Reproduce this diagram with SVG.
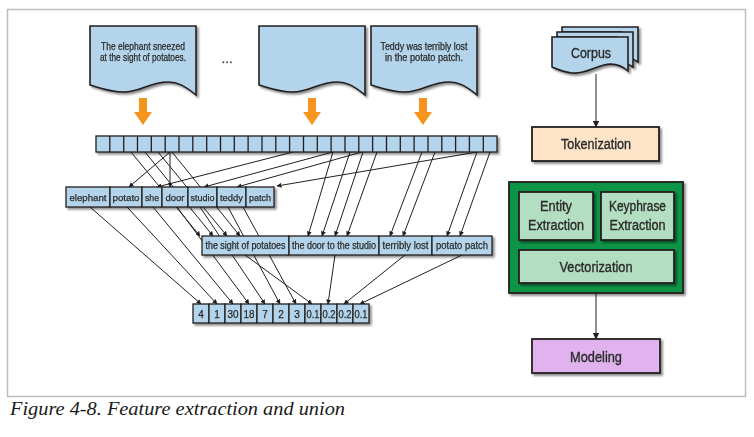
<svg xmlns="http://www.w3.org/2000/svg" width="754" height="437" viewBox="0 0 754 437">
<defs>
<filter id="sh" x="-10%" y="-10%" width="130%" height="140%"><feDropShadow dx="2" dy="2" stdDeviation="1.2" flood-color="#000" flood-opacity="0.45"/></filter>
<marker id="ah" markerWidth="5" markerHeight="5" refX="4.5" refY="2.5" orient="auto" markerUnits="userSpaceOnUse"><path d="M0,0 L5,2.5 L0,5 Z" fill="#231f20"/></marker>
<marker id="ah2" markerWidth="7" markerHeight="7" refX="6.5" refY="3.5" orient="auto" markerUnits="userSpaceOnUse"><path d="M0,0 L7,3.5 L0,7 Z" fill="#231f20"/></marker>
</defs>
<style>
.doc{fill:#b3d4ea;stroke:#231f20;stroke-width:1.6}
.cell{fill:#b3d4ea;stroke:#231f20;stroke-width:1.3}
.t{font-family:"Liberation Sans",Arial,sans-serif;fill:#2b2b2b;text-anchor:middle;stroke:#2b2b2b;stroke-width:0.25}
.s9{font-size:9.5px}
.s10{font-size:10px}
.s13{font-size:14px;stroke-width:0.35}
.ln{stroke:#231f20;stroke-width:1;fill:none;marker-end:url(#ah)}
.or{fill:#f7941d}
.box{stroke:#231f20;stroke-width:1.8}
</style>
<rect x="7.5" y="9.5" width="738" height="387" fill="#fff" stroke="#bdbdbd" stroke-width="1.5"/>

<g id="connectors">
<!-- bar to words -->
<line class="ln" x1="170" y1="152" x2="129" y2="187"/>
<line class="ln" x1="170" y1="152" x2="170" y2="187"/>
<line class="ln" x1="293" y1="152" x2="157" y2="187"/>
<line class="ln" x1="333" y1="152" x2="204" y2="187"/>
<line class="ln" x1="362" y1="152" x2="237" y2="187"/>
<line class="ln" x1="477" y1="152" x2="277" y2="186"/>
<!-- bar to phrases (behind words) -->
<line class="ln" x1="131" y1="152" x2="200" y2="236"/>
<line class="ln" x1="145" y1="152" x2="213" y2="236"/>
<line class="ln" x1="158" y1="152" x2="227" y2="236"/>
<line class="ln" x1="172" y1="152" x2="240" y2="236"/>
<line class="ln" x1="333" y1="152" x2="308" y2="236"/>
<line class="ln" x1="350" y1="152" x2="322" y2="236"/>
<line class="ln" x1="363" y1="152" x2="335" y2="236"/>
<line class="ln" x1="377" y1="152" x2="347" y2="236"/>
<line class="ln" x1="422" y1="152" x2="390" y2="236"/>
<line class="ln" x1="435" y1="152" x2="403" y2="236"/>
<line class="ln" x1="477" y1="152" x2="447" y2="236"/>
<line class="ln" x1="490" y1="152" x2="460" y2="236"/>
<!-- words to numbers -->
<line class="ln" x1="90" y1="207" x2="201" y2="304"/>
<line class="ln" x1="127" y1="207" x2="217" y2="304"/>
<line class="ln" x1="153" y1="207" x2="233" y2="304"/>
<line class="ln" x1="177" y1="207" x2="249" y2="304"/>
<line class="ln" x1="200" y1="207" x2="265" y2="304"/>
<line class="ln" x1="228" y1="207" x2="280" y2="304"/>
<line class="ln" x1="243" y1="207" x2="296" y2="304"/>
<!-- phrases to numbers -->
<line class="ln" x1="245" y1="255" x2="312" y2="304"/>
<line class="ln" x1="335" y1="255" x2="328" y2="304"/>
<line class="ln" x1="405" y1="255" x2="344" y2="304"/>
<line class="ln" x1="462" y1="255" x2="360" y2="304"/>
<!-- pipeline -->
<line x1="596" y1="74" x2="596" y2="127" stroke="#231f20" stroke-width="1" marker-end="url(#ah2)"/>
<line x1="596" y1="283" x2="596" y2="339" stroke="#231f20" stroke-width="1" marker-end="url(#ah2)"/>
</g>

<g id="doc1" filter="url(#sh)">
<path class="doc" d="M90,26 H196 V95 C185,86 178,82 168,82 C150,82 140,92 124,92 C110,92 100,88 90,85 Z"/>
<text class="t s10" x="143" y="50" textLength="84" lengthAdjust="spacingAndGlyphs">The elephant sneezed</text>
<text class="t s10" x="143" y="61" textLength="86" lengthAdjust="spacingAndGlyphs">at the sight of potatoes.</text>
</g>
<g id="dots"><text class="t" x="227" y="63" style="font-size:12px">…</text></g>
<g id="doc2" filter="url(#sh)">
<path class="doc" d="M259,26 H365 V95 C354,86 347,82 337,82 C319,82 309,92 293,92 C279,92 269,88 259,85 Z"/>
</g>
<g id="doc3" filter="url(#sh)">
<path class="doc" d="M371,26 H477 V95 C466,86 459,82 449,82 C431,82 421,92 405,92 C391,92 381,88 371,85 Z"/>
<text class="t s10" x="424" y="50" textLength="87" lengthAdjust="spacingAndGlyphs">Teddy was terribly lost</text>
<text class="t s10" x="424" y="61" textLength="78" lengthAdjust="spacingAndGlyphs">in the potato patch.</text>
</g>

<g id="arrows">
<path class="or" d="M139,98 H147 V112 H152 L143,125 L134,112 H139 Z"/>
<path class="or" d="M308,98 H316 V112 H321 L312,125 L303,112 H308 Z"/>
<path class="or" d="M419,98 H427 V112 H432 L423,125 L414,112 H419 Z"/>
</g>

<g id="tokens" filter="url(#sh)">
<rect class="cell" x="96" y="136" width="401" height="16"/>
<path stroke="#231f20" stroke-width="1.3" d="M109.8,136V152M123.7,136V152M137.5,136V152M151.3,136V152M165.2,136V152M179,136V152M192.8,136V152M206.7,136V152M220.5,136V152M234.3,136V152M248.1,136V152M262,136V152M275.8,136V152M289.6,136V152M303.5,136V152M317.3,136V152M331.1,136V152M345,136V152M358.8,136V152M372.6,136V152M386.5,136V152M400.3,136V152M414.1,136V152M428,136V152M441.8,136V152M455.6,136V152M469.4,136V152M483.3,136V152"/>
</g>

<g id="words" filter="url(#sh)">
<rect class="cell" x="66" y="187" width="44" height="20"/>
<rect class="cell" x="110" y="187" width="32" height="20"/>
<rect class="cell" x="142" y="187" width="20" height="20"/>
<rect class="cell" x="162" y="187" width="26" height="20"/>
<rect class="cell" x="188" y="187" width="29" height="20"/>
<rect class="cell" x="217" y="187" width="29" height="20"/>
<rect class="cell" x="246" y="187" width="28" height="20"/>
<text class="t s9" x="88" y="200.5" textLength="37" lengthAdjust="spacingAndGlyphs">elephant</text>
<text class="t s9" x="126" y="200.5" textLength="27" lengthAdjust="spacingAndGlyphs">potato</text>
<text class="t s9" x="152" y="200.5" textLength="14" lengthAdjust="spacingAndGlyphs">she</text>
<text class="t s9" x="175" y="200.5" textLength="19" lengthAdjust="spacingAndGlyphs">door</text>
<text class="t s9" x="202.5" y="200.5" textLength="24" lengthAdjust="spacingAndGlyphs">studio</text>
<text class="t s9" x="231.5" y="200.5" textLength="23" lengthAdjust="spacingAndGlyphs">teddy</text>
<text class="t s9" x="260" y="200.5" textLength="22" lengthAdjust="spacingAndGlyphs">patch</text>
</g>

<g id="phrases" filter="url(#sh)">
<rect class="cell" x="202" y="236" width="87" height="19"/>
<rect class="cell" x="289" y="236" width="90" height="19"/>
<rect class="cell" x="379" y="236" width="53" height="19"/>
<rect class="cell" x="432" y="236" width="60" height="19"/>
<text class="t s10" x="245.5" y="249" textLength="80" lengthAdjust="spacingAndGlyphs">the sight of potatoes</text>
<text class="t s10" x="334" y="249" textLength="84" lengthAdjust="spacingAndGlyphs">the door to the studio</text>
<text class="t s10" x="405.5" y="249" textLength="46" lengthAdjust="spacingAndGlyphs">terribly lost</text>
<text class="t s10" x="462" y="249" textLength="52" lengthAdjust="spacingAndGlyphs">potato patch</text>
</g>

<g id="numbers" filter="url(#sh)">
<rect class="cell" x="193" y="304" width="16" height="19"/>
<rect class="cell" x="209" y="304" width="16" height="19"/>
<rect class="cell" x="225" y="304" width="16" height="19"/>
<rect class="cell" x="241" y="304" width="16" height="19"/>
<rect class="cell" x="257" y="304" width="16" height="19"/>
<rect class="cell" x="273" y="304" width="16" height="19"/>
<rect class="cell" x="289" y="304" width="16" height="19"/>
<rect class="cell" x="305" y="304" width="16" height="19"/>
<rect class="cell" x="321" y="304" width="16" height="19"/>
<rect class="cell" x="337" y="304" width="16" height="19"/>
<rect class="cell" x="353" y="304" width="16" height="19"/>
<text class="t s10" x="201" y="317.5">4</text>
<text class="t s10" x="217" y="317.5">1</text>
<text class="t s10" x="233" y="317.5" textLength="11" lengthAdjust="spacingAndGlyphs">30</text>
<text class="t s10" x="249" y="317.5" textLength="11" lengthAdjust="spacingAndGlyphs">18</text>
<text class="t s10" x="265" y="317.5">7</text>
<text class="t s10" x="281" y="317.5">2</text>
<text class="t s10" x="297" y="317.5">3</text>
<text class="t s10" x="313" y="317.5" textLength="13" lengthAdjust="spacingAndGlyphs">0.1</text>
<text class="t s10" x="329" y="317.5" textLength="13" lengthAdjust="spacingAndGlyphs">0.2</text>
<text class="t s10" x="345" y="317.5" textLength="13" lengthAdjust="spacingAndGlyphs">0.2</text>
<text class="t s10" x="361" y="317.5" textLength="13" lengthAdjust="spacingAndGlyphs">0.1</text>
</g>

<g id="corpus" filter="url(#sh)">
<path class="doc" d="M562,27 H638 V62 C632,58 628,57 622,58 L622,32 H562 Z"/>
<path class="doc" d="M557,32 H633 V67 C627,63 623,62 617,63 L617,37 H557 Z"/>
<path class="doc" d="M552,37 H628 V71 C620,64 612,63 604,65 C592,68 585,74 572,73 C563,72 557,69 552,67 Z"/>
<text class="t s13" x="591" y="58" textLength="40" lengthAdjust="spacingAndGlyphs">Corpus</text>
</g>

<g id="tokenization" filter="url(#sh)">
<rect class="box" x="532" y="127" width="127" height="34" fill="#fde3c8"/>
<text class="t s13" x="596" y="149" textLength="70" lengthAdjust="spacingAndGlyphs">Tokenization</text>
</g>

<g id="features" filter="url(#sh)">
<rect class="box" x="509" y="182" width="174" height="111" fill="#0f9447"/>
</g>
<g id="entity" filter="url(#sh)">
<rect class="box" x="519" y="192" width="74" height="48" fill="#b3dec1"/>
<text class="t s13" x="556" y="211" textLength="32" lengthAdjust="spacingAndGlyphs">Entity</text>
<text class="t s13" x="556" y="230" textLength="56" lengthAdjust="spacingAndGlyphs">Extraction</text>
</g>
<g id="keyphrase" filter="url(#sh)">
<rect class="box" x="601" y="192" width="73" height="48" fill="#b3dec1"/>
<text class="t s13" x="637.5" y="211" textLength="57" lengthAdjust="spacingAndGlyphs">Keyphrase</text>
<text class="t s13" x="637.5" y="230" textLength="56" lengthAdjust="spacingAndGlyphs">Extraction</text>
</g>
<g id="vectorization" filter="url(#sh)">
<rect class="box" x="519" y="250" width="155" height="33" fill="#b3dec1"/>
<text class="t s13" x="596" y="271.5" textLength="73" lengthAdjust="spacingAndGlyphs">Vectorization</text>
</g>
<g id="modeling" filter="url(#sh)">
<rect class="box" x="532" y="339" width="128" height="34" fill="#e0b3ef"/>
<text class="t s13" x="596" y="361.5" textLength="52" lengthAdjust="spacingAndGlyphs">Modeling</text>
</g>

<text x="10" y="415" style="font-family:'Liberation Serif','Times New Roman',serif;font-style:italic;font-size:18px;fill:#1a1a1a" textLength="335" lengthAdjust="spacingAndGlyphs">Figure 4-8. Feature extraction and union</text>
</svg>
